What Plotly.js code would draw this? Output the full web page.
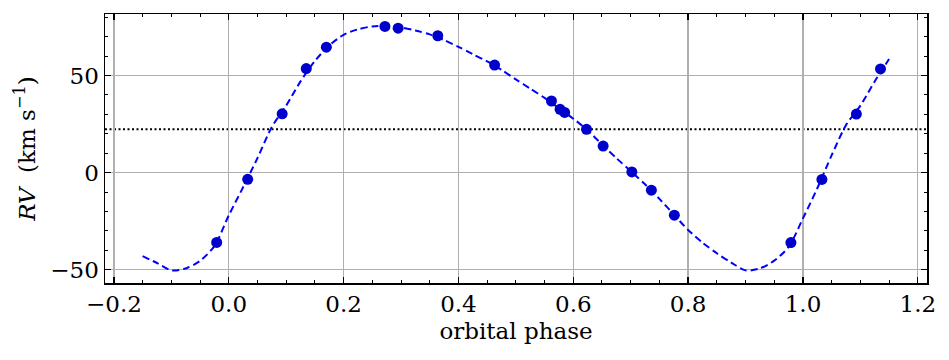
<!DOCTYPE html>
<html>
<head>
<meta charset="utf-8">
<script src="https://cdn.plot.ly/plotly-3.0.1.min.js"></script>
<style>
  body { margin: 0; background: #fff; }
  #rv-plot { width: 949px; height: 360px; }
</style>
</head>
<body>
<div id="rv-plot"></div>
<script>
// observed radial velocities (phase, km/s)
var obsPhase = [-0.021, 0.033, 0.093, 0.135, 0.170, 0.272, 0.295, 0.364, 0.463, 0.562,
                0.577, 0.585, 0.623, 0.652, 0.702, 0.736, 0.776, 0.979, 1.033, 1.093, 1.135];
var obsRV = [-35.9, -3.4, 30.3, 53.6, 64.6, 75.3, 74.4, 70.5, 55.4, 36.9,
             32.6, 31.0, 22.3, 13.7, 0.4, -9.0, -21.9, -36.0, -3.5, 30.2, 53.4];

// orbit model
var modelPhase = [-0.150, -0.125, -0.100, -0.075, -0.050, -0.025, 0.000, 0.025, 0.050, 0.075,
                  0.100, 0.125, 0.150, 0.175, 0.200, 0.225, 0.250, 0.275, 0.300, 0.325,
                  0.350, 0.375, 0.400, 0.425, 0.450, 0.475, 0.500, 0.525, 0.550, 0.575,
                  0.600, 0.625, 0.650, 0.675, 0.700, 0.725, 0.750, 0.775, 0.800, 0.825,
                  0.850, 0.875, 0.900, 0.925, 0.950, 0.975, 1.000, 1.025, 1.050, 1.075,
                  1.100, 1.125, 1.150];
var modelRV = [-43.0, -46.5, -50.3, -49.3, -45.4, -37.8, -22.0, -7.5, 7.5, 23.5,
               34.5, 47.0, 57.5, 65.5, 71.0, 73.8, 75.3, 75.6, 74.8, 73.2,
               71.2, 68.3, 64.8, 61.0, 57.3, 53.0, 48.0, 43.3, 38.5, 33.2,
               27.8, 21.8, 14.5, 7.5, 0.8, -6.0, -13.5, -21.5, -29.5, -36.0,
               -41.5, -46.3, -50.3, -49.3, -45.3, -38.2, -23.5, -8.0, 9.0, 24.5,
               34.5, 47.0, 58.5];

// systemic velocity
var gammaRV = 22.3;

var xTicks = [-0.2, 0.0, 0.2, 0.4, 0.6, 0.8, 1.0, 1.2];
var yTicks = [-50, 0, 50];

var serif = "DejaVu Serif";
var fsize = 23;

var model = {
  x: modelPhase,
  y: modelRV,
  type: "scatter",
  mode: "lines",
  line: {color: "#0000ff", width: 2, dash: "7px,4px", shape: "spline", smoothing: 0.8},
  hoverinfo: "skip"
};
var obs = {
  x: obsPhase,
  y: obsRV,
  type: "scatter",
  mode: "markers",
  marker: {color: "#0000cd", size: 11}
};

var axisCommon = {
  showline: true,
  linecolor: "#000",
  linewidth: 1.5,
  mirror: "allticks",
  ticks: "inside",
  ticklen: 6,
  tickwidth: 1.3,
  tickcolor: "#000",
  showgrid: true,
  gridcolor: "#b0b0b0",
  gridwidth: 1.3,
  zeroline: false,
  tickfont: {family: serif, size: fsize, color: "#000"}
};

var layout = {
  width: 949,
  height: 360,
  margin: {l: 105, r: 22, t: 14, b: 77},
  paper_bgcolor: "#fff",
  plot_bgcolor: "#fff",
  showlegend: false,
  font: {family: serif, size: fsize, color: "#000"},
  xaxis: Object.assign({}, axisCommon, {
    range: [-0.2155, 1.216],
    tickvals: xTicks,
    ticktext: xTicks.map(v => (v < 0 ? "\u2212" : "") + Math.abs(v).toFixed(1)),
    minor: {dtick: 0.05, ticks: "inside", ticklen: 3, tickwidth: 1, tickcolor: "#000", showgrid: false},
    title: {text: "orbital phase", font: {family: serif, size: fsize, color: "#000"}, standoff: 7}
  }),
  yaxis: Object.assign({}, axisCommon, {
    range: [-56.8, 81.7],
    tickvals: yTicks,
    ticktext: yTicks.map(v => (v < 0 ? "\u2212" : "") + Math.abs(v)),
    minor: {dtick: 10, ticks: "inside", ticklen: 3, tickwidth: 1, tickcolor: "#000", showgrid: false},
    title: {text: "<i>RV</i>  (km s<sup>\u22121</sup>)", font: {family: serif, size: fsize, color: "#000"}, standoff: 8}
  }),
  shapes: [{
    type: "line",
    xref: "paper", x0: 0, x1: 1,
    yref: "y", y0: gammaRV, y1: gammaRV,
    line: {color: "#000", width: 2, dash: "2px,2.5px"},
    layer: "between"
  }]
};

Plotly.newPlot("rv-plot", [model, obs], layout, {displayModeBar: false, staticPlot: true});
</script>
</body>
</html>
